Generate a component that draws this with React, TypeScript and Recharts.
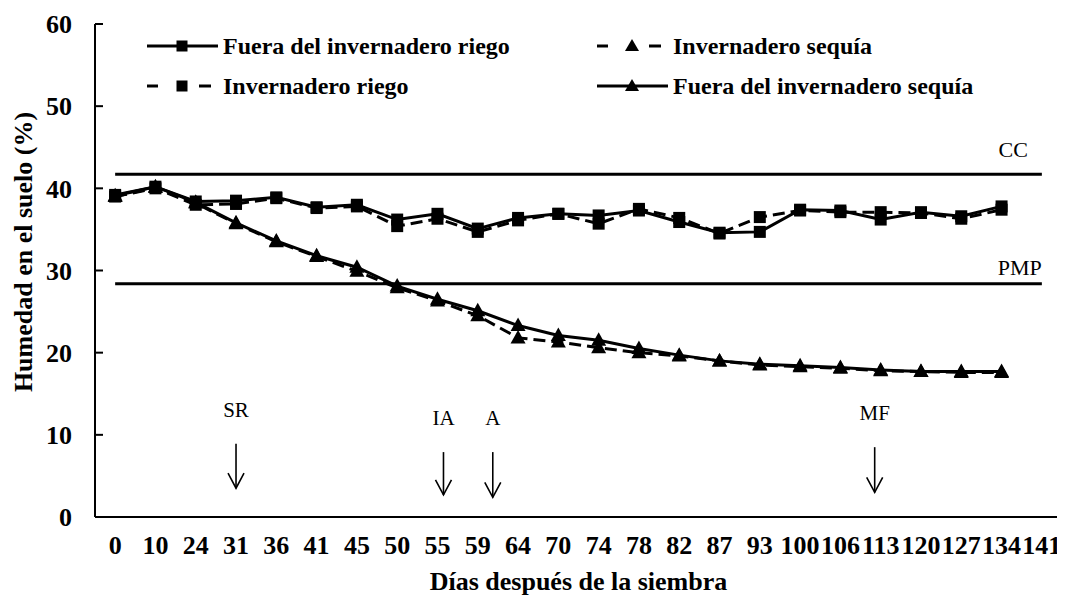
import React from 'react';
import { LineChart, Line, XAxis, YAxis, ReferenceLine, Legend } from 'recharts';

// ---------- data ----------
const days = ['0', '10', '24', '31', '36', '41', '45', '50', '55', '59', '64', '70', '74', '78', '82', '87', '93', '100', '106', '113', '120', '127', '134', '141'];

const fueraRiego = [39.2, 40.2, 38.4, 38.5, 38.9, 37.7, 38.0, 36.2, 36.9, 35.1, 36.4, 36.9, 36.7, 37.3, 35.9, 34.6, 34.7, 37.4, 37.3, 36.2, 37.1, 36.6, 37.8, null];
const invRiego = [39.0, 40.0, 38.0, 38.1, 38.8, 37.6, 37.8, 35.4, 36.3, 34.7, 36.1, 36.9, 35.7, 37.5, 36.4, 34.5, 36.5, 37.3, 37.1, 37.1, 37.0, 36.3, 37.4, null];
const invSequia = [39.0, 40.1, 38.2, 35.7, 33.5, 31.7, 29.9, 27.9, 26.3, 24.5, 21.8, 21.3, 20.6, 20.0, 19.6, 19.0, 18.5, 18.3, 18.1, 17.8, 17.7, 17.6, 17.6, null];
const fueraSequia = [39.1, 40.2, 38.3, 35.8, 33.6, 31.8, 30.4, 28.1, 26.5, 25.1, 23.3, 22.1, 21.5, 20.5, 19.7, 19.0, 18.6, 18.4, 18.2, 17.9, 17.7, 17.7, 17.7, null];

const ccValue = 41.7;
const pmpValue = 28.4;
const yTicks = [0, 10, 20, 30, 40, 50, 60];

const stageLabels = ['SR', 'IA', 'A', 'MF'];
const stageDays = ['31', '55', '59', '113'];
const stageTop = [8.9, 7.9, 7.9, 8.5];
const stageBottom = [3.5, 2.7, 2.4, 3.0];

// ---------- styling config ----------
const FONT = "'Liberation Serif', 'Times New Roman', Times, serif";
const stageShiftPx: Record<string, number> = { SR: 0, IA: 6, A: 15, MF: -6 };

const series = [
  { key: 'fueraRiego', name: 'Fuera del invernadero riego', marker: 'square', dashed: false },
  { key: 'invRiego', name: 'Invernadero riego', marker: 'square', dashed: true },
  { key: 'invSequia', name: 'Invernadero sequía', marker: 'triangle', dashed: true },
  { key: 'fueraSequia', name: 'Fuera del invernadero sequía', marker: 'triangle', dashed: false },
];
const legendSlots: Record<string, { left: number; top: number }> = {
  fueraRiego: { left: 139, top: 38 },
  invSequia: { left: 589, top: 38 },
  invRiego: { left: 139, top: 78 },
  fueraSequia: { left: 589, top: 78 },
};

const data = days.map((day, i) => ({
  day,
  fueraRiego: fueraRiego[i],
  invRiego: invRiego[i],
  invSequia: invSequia[i],
  fueraSequia: fueraSequia[i],
}));
const boundaryTicks = Array.from({ length: days.length + 1 }, (_, i) => i);

const makeDot = (marker: string) => (p: any) => {
  const k = `${p.dataKey}-${p.index}`;
  if (p.value == null || p.cy == null || Number.isNaN(p.cy)) return <g key={k} />;
  if (marker === 'square') {
    return <rect key={k} x={p.cx - 6} y={p.cy - 6} width={12} height={12} fill="#000" />;
  }
  return (
    <polygon
      key={k}
      points={`${p.cx},${p.cy - 8} ${p.cx - 7.5},${p.cy + 5.5} ${p.cx + 7.5},${p.cy + 5.5}`}
      fill="#000"
    />
  );
};

function LegendMarker({ marker, dashed }: { marker: string; dashed: boolean }) {
  const w = 71;
  const h = 20;
  const cy = 10;
  const cx = 35;
  return (
    <svg width={w} height={h} style={{ display: 'block', flex: 'none' }}>
      {dashed ? (
        <g stroke="#000" strokeWidth={3}>
          <line x1={0} y1={cy} x2={11} y2={cy} />
          <line x1={52} y1={cy} x2={64} y2={cy} />
        </g>
      ) : (
        <line x1={0} y1={cy} x2={w} y2={cy} stroke="#000" strokeWidth={3} />
      )}
      {marker === 'square' ? (
        <rect x={cx - 5.5} y={cy - 5.5} width={11} height={11} fill="#000" />
      ) : (
        <polygon points={`${cx},${cy - 7} ${cx - 7},${cy + 5} ${cx + 7},${cy + 5}`} fill="#000" />
      )}
    </svg>
  );
}

const renderLegend = () => (
  <div style={{ position: 'relative', width: 1057, height: 110 }}>
    {series.map((s) => {
      const slot = legendSlots[s.key];
      return (
        <div
          key={s.key}
          style={{
            position: 'absolute',
            left: slot.left,
            top: slot.top - 15,
            height: 30,
            display: 'flex',
            alignItems: 'center',
          }}
        >
          <LegendMarker marker={s.marker} dashed={s.dashed} />
          <span
            style={{
              marginLeft: 5,
              fontFamily: FONT,
              fontWeight: 'bold',
              fontSize: 24,
              lineHeight: '24px',
              color: '#000',
              whiteSpace: 'nowrap',
            }}
          >
            {s.name}
          </span>
        </div>
      );
    })}
  </div>
);

const refLabel = (text: string, dxFromEnd: number, dyAbove: number) => (p: any) => {
  const vb = p.viewBox || {};
  return (
    <text
      x={vb.x + vb.width - dxFromEnd}
      y={vb.y - dyAbove}
      textAnchor="end"
      fontFamily={FONT}
      fontSize={22}
      fill="#000"
    >
      {text}
    </text>
  );
};

const arrowShape = (label: string) => (p: any) => {
  const x = p.x1 + (stageShiftPx[label] || 0);
  const top = Math.min(p.y1, p.y2);
  const bot = Math.max(p.y1, p.y2);
  return (
    <g>
      <text x={x} y={top - 27} textAnchor="middle" fontFamily={FONT} fontSize={21} fill="#000">
        {label}
      </text>
      <line x1={x} y1={top} x2={x} y2={bot} stroke="#000" strokeWidth={1.6} />
      <polyline
        points={`${x - 8},${bot - 15} ${x},${bot} ${x + 8},${bot - 15}`}
        fill="none"
        stroke="#000"
        strokeWidth={1.6}
      />
    </g>
  );
};

const yTitle = () => {
  const x = 15;
  const y = 244;
  return (
    <text
      x={x}
      y={y}
      transform={`rotate(-90, ${x}, ${y})`}
      textAnchor="middle"
      dominantBaseline="central"
      fontFamily={FONT}
      fontWeight="bold"
      fontSize={26}
      fill="#000"
    >
      Humedad en el suelo (%)
    </text>
  );
};

const xTitle = (p: any) => {
  const vb = p.viewBox || {};
  return (
    <text
      x={vb.x + vb.width / 2}
      y={vb.y + 72}
      textAnchor="middle"
      fontFamily={FONT}
      fontWeight="bold"
      fontSize={26}
      fill="#000"
    >
      Días después de la siembra
    </text>
  );
};

const tickStyle = { fill: '#000', fontSize: 26, fontWeight: 'bold', fontFamily: FONT };

export default function App() {
  return (
    <div style={{ width: 1057, height: 589 }}>
      <LineChart width={1057} height={589} data={data} margin={{ top: 16, right: 3, left: 17, bottom: 0 }}>
        <XAxis
          xAxisId={0}
          type="number"
          domain={[0, days.length]}
          ticks={boundaryTicks}
          interval={0}
          height={1}
          tick={false}
          tickSize={-7}
          axisLine={{ stroke: '#000', strokeWidth: 2 }}
          tickLine={{ stroke: '#000', strokeWidth: 2 }}
          allowDataOverflow
        />
        <XAxis
          xAxisId={1}
          dataKey="day"
          type="category"
          scale="band"
          interval={0}
          height={79}
          axisLine={false}
          tickLine={false}
          tickSize={6}
          tickMargin={12}
          tick={tickStyle}
          label={xTitle}
        />
        <YAxis
          domain={[0, 60]}
          ticks={yTicks}
          interval={0}
          width={70}
          tickSize={-8}
          tickMargin={31}
          axisLine={{ stroke: '#000', strokeWidth: 2 }}
          tickLine={{ stroke: '#000', strokeWidth: 2 }}
          tick={tickStyle}
          allowDataOverflow
          label={yTitle}
        />
        <Legend
          layout="vertical"
          align="center"
          verticalAlign="middle"
          wrapperStyle={{ left: 0, top: 0, width: 1057, height: 110 }}
          content={renderLegend}
        />
        <ReferenceLine
          xAxisId={1}
          segment={[{ x: days[0], y: ccValue }, { x: days[days.length - 1], y: ccValue }]}
          stroke="#000"
          strokeWidth={3}
          label={refLabel('CC', 14, 17)}
        />
        <ReferenceLine
          xAxisId={1}
          segment={[{ x: days[0], y: pmpValue }, { x: days[days.length - 1], y: pmpValue }]}
          stroke="#000"
          strokeWidth={3}
          label={refLabel('PMP', 0, 9)}
        />
        {stageLabels.map((lab, i) => (
          <ReferenceLine
            key={lab}
            xAxisId={1}
            segment={[{ x: stageDays[i], y: stageTop[i] }, { x: stageDays[i], y: stageBottom[i] }]}
            shape={arrowShape(lab)}
          />
        ))}
        {['invSequia', 'fueraSequia', 'invRiego', 'fueraRiego'].map((k) => {
          const s = series.find((x) => x.key === k)!;
          return (
            <Line
              key={k}
              xAxisId={1}
              type="linear"
              dataKey={k}
              name={s.name}
              stroke="#000"
              strokeWidth={3}
              strokeDasharray={s.dashed ? '12 6' : undefined}
              dot={makeDot(s.marker)}
              activeDot={false}
              isAnimationActive={false}
              legendType="none"
            />
          );
        })}
      </LineChart>
    </div>
  );
}
